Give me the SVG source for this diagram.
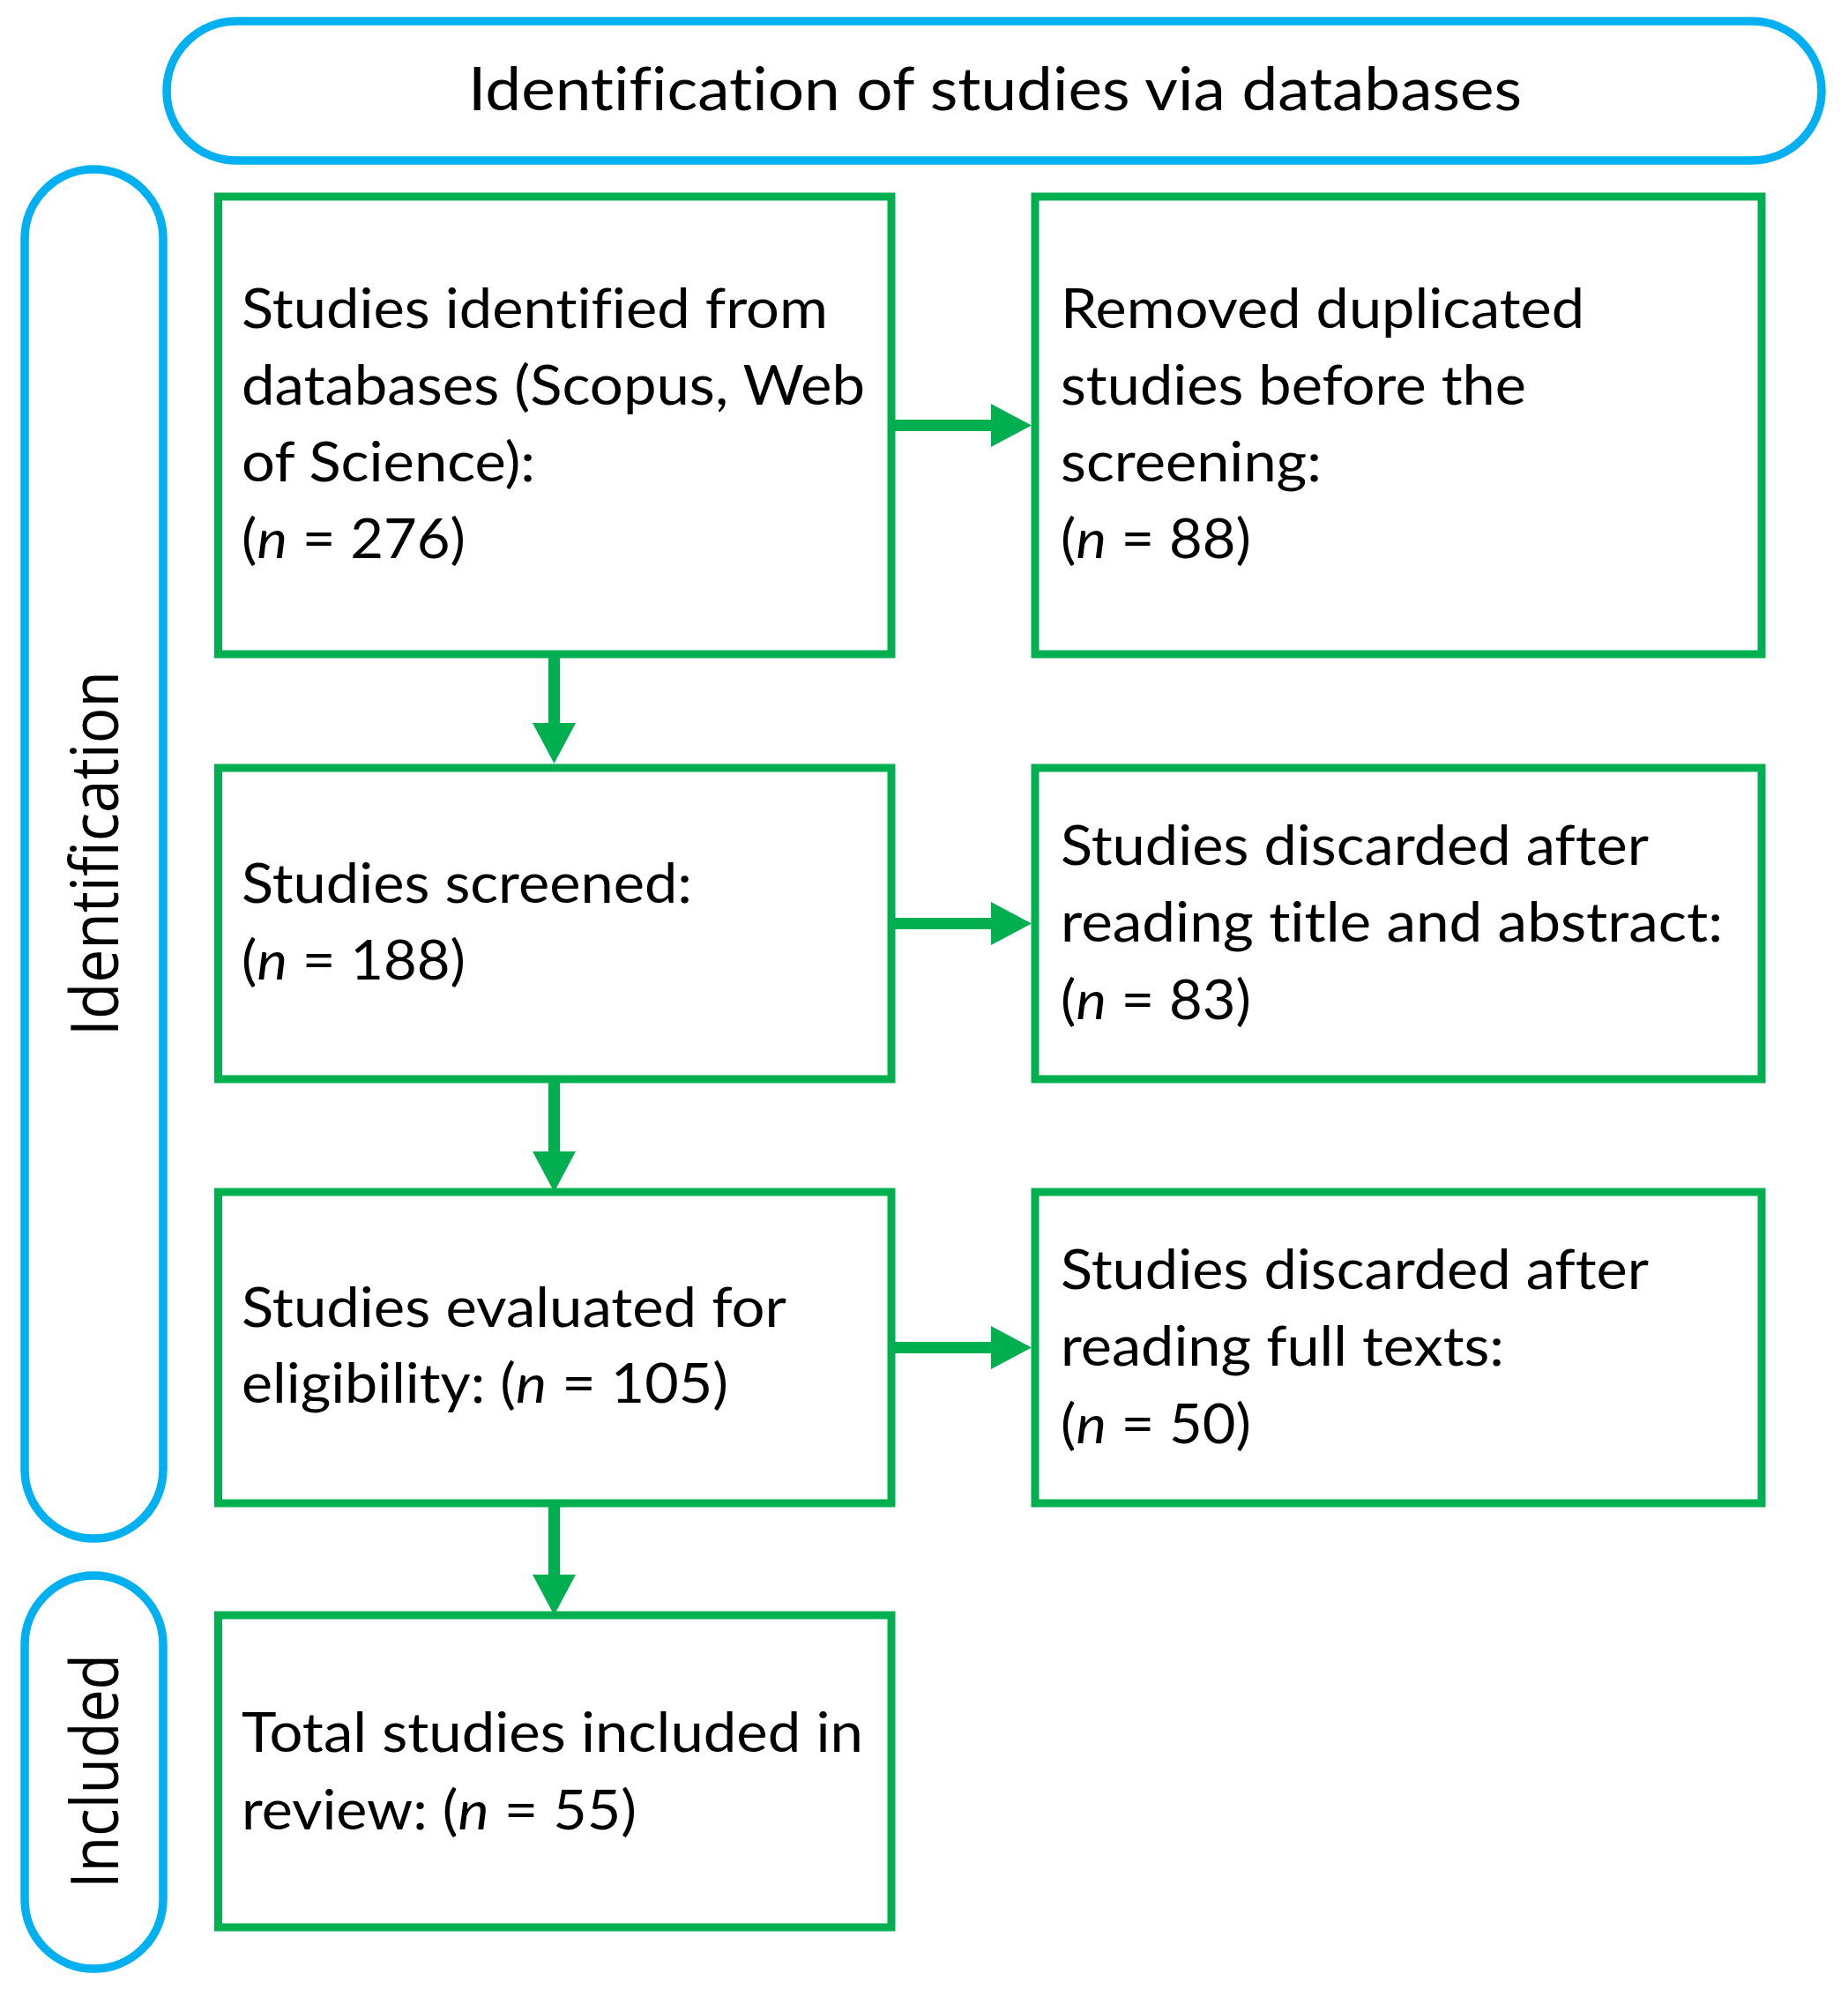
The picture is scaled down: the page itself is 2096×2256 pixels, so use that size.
<svg xmlns="http://www.w3.org/2000/svg" width="2096" height="2256" viewBox="0 0 2096 2256">
<style>
text{font-variant-ligatures:none;font-feature-settings:"liga" 0,"clig" 0}
.pill{fill:none;stroke:#00B0F0;stroke-width:9.5}
.box{fill:#fff;stroke:#00B050;stroke-width:9}
.t{font-family:Lato,"Liberation Sans",sans-serif;font-size:61px;fill:#000}
.title{font-family:Lato,"Liberation Sans",sans-serif;font-size:68px;fill:#000}
.v{font-family:"Open Sans","Liberation Sans",sans-serif;font-size:75px;fill:#000}
.conn line{stroke:#00B050;stroke-width:13;fill:none}
.i{font-style:italic}
</style>
<defs>
<marker id="ah" markerUnits="userSpaceOnUse" markerWidth="46" markerHeight="49" refX="0" refY="24.5" orient="auto" viewBox="0 0 46 49">
<path d="M0,0 L46,24.5 L0,49 Z" fill="#00B050"/>
</marker>
</defs>
<rect width="2096" height="2256" fill="#fff"/>

<g id="header">
<rect class="pill" x="189" y="24" width="1877" height="158" rx="79" ry="79"/>
<text class="title" x="531" y="125" textLength="1195" lengthAdjust="spacingAndGlyphs">Identification of studies via databases</text>
</g>

<g id="phase-identification">
<rect class="pill" x="28" y="192" width="157" height="1553" rx="78.5" ry="78.5"/>
<text class="v" transform="translate(134,968) rotate(-90)" text-anchor="middle" textLength="414" lengthAdjust="spacingAndGlyphs">Identification</text>
</g>

<g id="phase-included">
<rect class="pill" x="28" y="1787" width="157" height="446" rx="78.5" ry="78.5"/>
<text class="v" transform="translate(134,2009) rotate(-90)" text-anchor="middle" textLength="266" lengthAdjust="spacingAndGlyphs">Included</text>
</g>

<g id="identified">
<rect class="box" x="247.5" y="223" width="763.5" height="519"/>
<text class="t" x="274" y="372" textLength="665" lengthAdjust="spacingAndGlyphs">Studies identified from</text>
<text class="t" x="274" y="459" textLength="707" lengthAdjust="spacingAndGlyphs">databases (Scopus, Web</text>
<text class="t" x="274" y="546" textLength="333" lengthAdjust="spacingAndGlyphs">of Science):</text>
<text class="t" x="274" y="633" textLength="254" lengthAdjust="spacingAndGlyphs">(<tspan class="i">n</tspan> = 276)</text>
</g>

<g id="duplicates">
<rect class="box" x="1174" y="223" width="824" height="519"/>
<text class="t" x="1203" y="372" textLength="594" lengthAdjust="spacingAndGlyphs">Removed duplicated</text>
<text class="t" x="1203" y="459" textLength="528" lengthAdjust="spacingAndGlyphs">studies before the</text>
<text class="t" x="1203" y="546" textLength="296" lengthAdjust="spacingAndGlyphs">screening:</text>
<text class="t" x="1203" y="633" textLength="216" lengthAdjust="spacingAndGlyphs">(<tspan class="i">n</tspan> = 88)</text>
</g>

<g id="screened">
<rect class="box" x="247.5" y="871" width="763.5" height="353"/>
<text class="t" x="274" y="1024" textLength="511" lengthAdjust="spacingAndGlyphs">Studies screened:</text>
<text class="t" x="274" y="1111" textLength="254" lengthAdjust="spacingAndGlyphs">(<tspan class="i">n</tspan> = 188)</text>
</g>

<g id="discarded-abstract">
<rect class="box" x="1174" y="871" width="824" height="353"/>
<text class="t" x="1203" y="981" textLength="667" lengthAdjust="spacingAndGlyphs">Studies discarded after</text>
<text class="t" x="1203" y="1068" textLength="751" lengthAdjust="spacingAndGlyphs">reading title and abstract:</text>
<text class="t" x="1203" y="1156" textLength="216" lengthAdjust="spacingAndGlyphs">(<tspan class="i">n</tspan> = 83)</text>
</g>

<g id="eligibility">
<rect class="box" x="247.5" y="1352" width="763.5" height="353"/>
<text class="t" x="274" y="1505" textLength="618" lengthAdjust="spacingAndGlyphs">Studies evaluated for</text>
<text class="t" x="274" y="1591" textLength="552" lengthAdjust="spacingAndGlyphs">eligibility: (<tspan class="i">n</tspan> = 105)</text>
</g>

<g id="discarded-fulltext">
<rect class="box" x="1174" y="1352" width="824" height="353"/>
<text class="t" x="1203" y="1462" textLength="667" lengthAdjust="spacingAndGlyphs">Studies discarded after</text>
<text class="t" x="1203" y="1549" textLength="503" lengthAdjust="spacingAndGlyphs">reading full texts:</text>
<text class="t" x="1203" y="1637" textLength="216" lengthAdjust="spacingAndGlyphs">(<tspan class="i">n</tspan> = 50)</text>
</g>

<g id="included">
<rect class="box" x="247.5" y="1832" width="763.5" height="354"/>
<text class="t" x="274" y="1987" textLength="705" lengthAdjust="spacingAndGlyphs">Total studies included in</text>
<text class="t" x="274" y="2075" textLength="448" lengthAdjust="spacingAndGlyphs">review: (<tspan class="i">n</tspan> = 55)</text>
</g>

<g id="connectors" class="conn">
<line x1="1011" y1="482.5" x2="1124" y2="482.5" marker-end="url(#ah)"/>
<line x1="1011" y1="1047.5" x2="1124" y2="1047.5" marker-end="url(#ah)"/>
<line x1="1011" y1="1528.5" x2="1124" y2="1528.5" marker-end="url(#ah)"/>
<line x1="628.5" y1="742" x2="628.5" y2="820" marker-end="url(#ah)"/>
<line x1="628.5" y1="1224" x2="628.5" y2="1306" marker-end="url(#ah)"/>
<line x1="628.5" y1="1705" x2="628.5" y2="1786" marker-end="url(#ah)"/>
</g>
</svg>
